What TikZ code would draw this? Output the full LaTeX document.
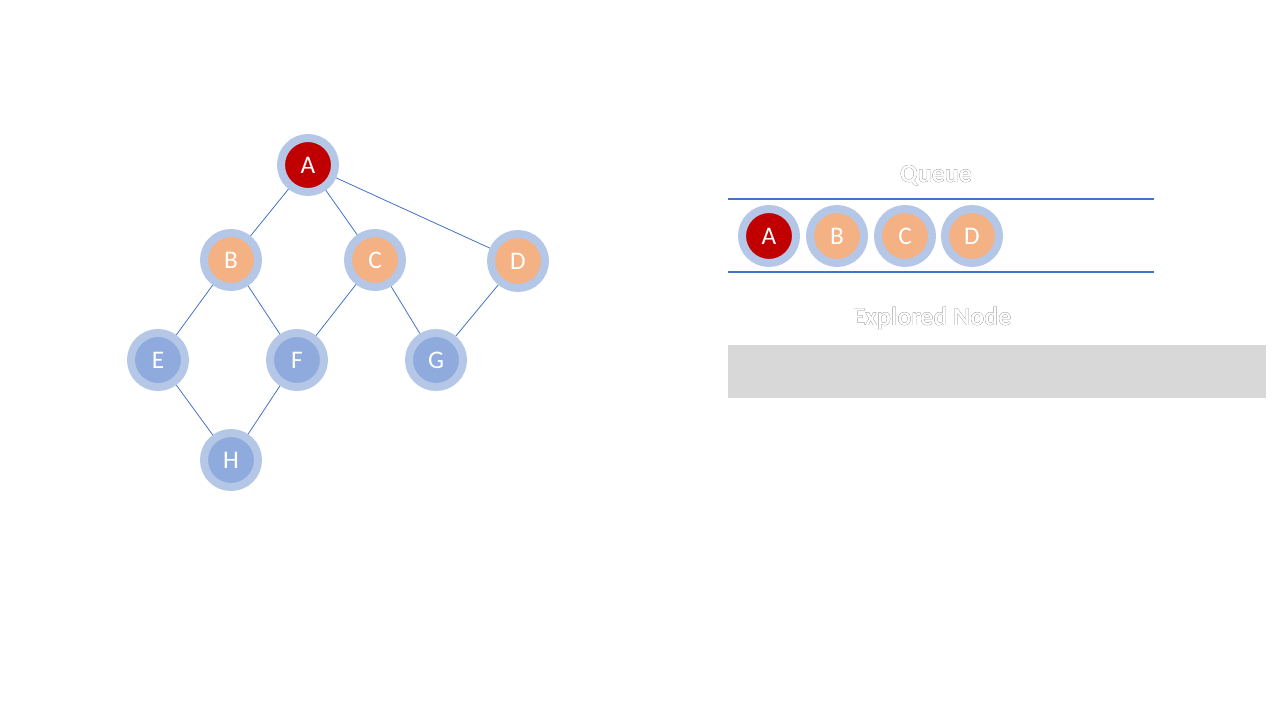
\documentclass[tikz,border=0pt]{standalone}
\usepackage{fontspec}
\setmainfont{Carlito}
\usepackage[outline]{contour}
\contourlength{0.6pt}
\definecolor{ring}{HTML}{B4C7E7}
\definecolor{redn}{HTML}{C00000}
\definecolor{orn}{HTML}{F4B183}
\definecolor{blun}{HTML}{8FAADC}
\definecolor{edgec}{HTML}{4472C4}
\definecolor{grayb}{HTML}{D8D8D8}
\tikzset{
  gnode/.style={circle, draw=ring, line width=6pt, inner sep=0pt, minimum size=40.5pt,
    text=white, font=\fontsize{19}{21}\selectfont},
  rednode/.style={gnode, fill=redn},
  ornode/.style={gnode, fill=orn},
  blnode/.style={gnode, fill=blun},
  gedge/.style={draw=edgec, line width=0.6pt},
  qline/.style={draw=edgec, line width=1.5pt},
  olabel/.style={font=\fontsize{19.5}{22}\selectfont\bfseries}
}
\begin{document}
\begin{tikzpicture}[x=0.75pt,y=-0.75pt]
\useasboundingbox (0,0) rectangle (1280,720);
% graph nodes
\node[rednode] (A) at (308,165) {A};
\node[ornode] (B) at (231,260) {B};
\node[ornode] (C) at (375,260) {C};
\node[ornode] (D) at (518,261) {D};
\node[blnode] (E) at (158,360) {E};
\node[blnode] (F) at (297,360) {F};
\node[blnode] (G) at (436,360) {G};
\node[blnode] (H) at (231,460) {H};
\draw[gedge] (A) -- (B);
\draw[gedge] (A) -- (C);
\draw[gedge] (A) -- (D);
\draw[gedge] (B) -- (E);
\draw[gedge] (B) -- (F);
\draw[gedge] (C) -- (F);
\draw[gedge] (C) -- (G);
\draw[gedge] (D) -- (G);
\draw[gedge] (E) -- (H);
\draw[gedge] (F) -- (H);
% queue
\node[olabel] (ql) at (936,176) {\contour{black}{\color{white}Queue}};
\coordinate (q1a) at (728,199);
\coordinate (q1b) at (1154,199);
\coordinate (q2a) at (728,272);
\coordinate (q2b) at (1154,272);
\draw[qline] (q1a) -- (q1b);
\draw[qline] (q2a) -- (q2b);
\node[rednode] (QA) at (769,236) {A};
\node[ornode] (QB) at (837,236) {B};
\node[ornode] (QC) at (905,236) {C};
\node[ornode] (QD) at (972,236) {D};
% explored
\node[olabel] (el) at (932,318) {\contour{black}{\color{white}Explored Node}};
\fill[grayb] (728,345) rectangle (1266,398);
\end{tikzpicture}
\end{document}
